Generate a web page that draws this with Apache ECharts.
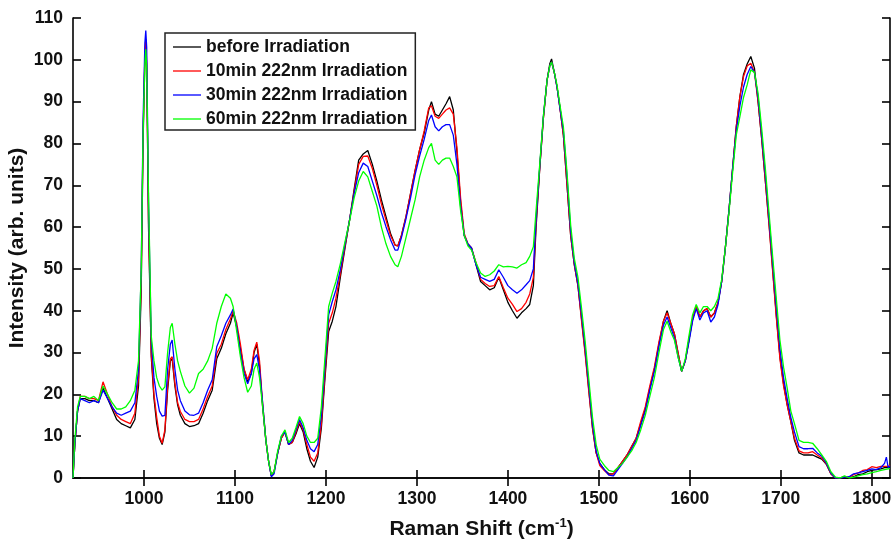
<!DOCTYPE html>
<html>
<head>
<meta charset="utf-8">
<script src="https://cdn.jsdelivr.net/npm/echarts@6/dist/echarts.min.js"></script>
<style>
html,body{margin:0;padding:0;background:#fff;}
#chart{width:895px;height:541px;}
</style>
</head>
<body>
<div id="chart"></div>
<script>
// Raman shift (cm^-1)
const shifts = [
922,924,927,930,935,940,945,950,955,960,
965,970,975,980,985,990,994,997,999,1001,
1002,1003,1005,1008,1011,1014,1017,1020,1023,1026,
1029,1031,1034,1037,1040,1045,1050,1055,1060,1065,
1070,1075,1080,1085,1090,1095,1098,1102,1106,1110,
1114,1118,1121,1124,1127,1130,1134,1137,1140,1143,
1147,1151,1155,1159,1163,1167,1171,1175,1179,1183,
1187,1191,1195,1199,1203,1207,1211,1216,1221,1226,
1231,1236,1241,1246,1251,1256,1261,1266,1271,1276,
1279,1283,1288,1293,1298,1303,1308,1313,1316,1320,
1324,1328,1332,1336,1340,1344,1348,1352,1356,1360,
1365,1370,1375,1380,1385,1390,1395,1400,1405,1410,
1415,1420,1424,1428,1431,1435,1439,1443,1446,1448,
1451,1454,1457,1461,1465,1469,1473,1477,1481,1485,
1489,1493,1497,1501,1506,1511,1516,1521,1526,1531,
1536,1541,1546,1551,1556,1561,1566,1571,1575,1579,
1583,1587,1591,1595,1599,1603,1607,1611,1615,1619,
1623,1627,1631,1635,1639,1643,1647,1651,1655,1659,
1663,1667,1671,1675,1679,1683,1687,1691,1695,1699,
1703,1707,1711,1715,1720,1725,1730,1735,1740,1745,
1750,1755,1760,1765,1770,1775,1780,1785,1790,1795,
1800,1805,1810,1814,1816,1818,1820
];

const beforeIrr = [
0,8,16,19,19,18.5,18.5,18,21.5,19,
16.5,14,13,12.5,12,14,22,45,80,100,
104,98,60,29,19,13,9.5,8,11,21,
28,28.5,22,17.5,15,13,12.3,12.5,13,15.5,
18.5,21,28.5,31,34.5,37,39.5,36,31,26,
23,25,30,32,27,18,9,4,0.5,1.5,
6,9.5,11,8,8.5,10.5,13,11,7,4,
2.5,5,12,24,35,37.5,41,48.2,55,61.7,
69,76,77.5,78.3,75,71,66.5,62.5,58.5,55.7,
55.5,58,62.5,68,73.5,78.5,82.5,88,90,87,
86.5,88,89.5,91.2,88,78,66,58,56,55,
51,47,46,45,45.5,48,45,42,40,38.2,
39.5,40.5,41.5,46,60,74,86,95,99,100.2,
97,93.5,89,82,70,58,51,46,38,30,
21,12,6,3.5,2,1,1,2.5,4,5.5,
7.5,9.5,13,16.5,21.5,26,32,37.5,40,37,
34.5,30,25.5,28,33,38,41,38.5,40,40.5,
38.5,39.5,42,47,55,64,74,84,91.2,96.5,
99,100.8,98,90,81,71,61,50,39,29,
22.5,17.5,13.5,9,6,5.5,5.5,5.5,5,4.5,
3.3,1,0,0,0,0,0.3,0.8,1,1.5,
1.8,2,2.2,2.5,2.5,2.5,2.5
];

const irr10min = [
0,8,16,19.5,19.5,19,19,18.5,23,20,
17,15,14,13.5,13,15.5,24,47,82,101,
105,99,62,30,20,14.5,10,8.3,11.5,22,
28.5,29,22.7,18,15.9,14,13.5,13.5,14,16.5,
19.5,22,29.8,32,35.5,38,40,37,32,26,
23.5,26,30.5,32.5,28,19,9,4,0.5,1.5,
6,9.5,11,8,8.5,11,13.5,11.5,8,5,
4,6,13,25,37,39.5,43,49,55.5,61.7,
68.5,75,76.9,77,74,70,65.5,61.7,58,55.7,
55.5,58,62.5,68,73.5,78.5,83,88.5,89,86.5,
86,87,88,88.5,87,79,67,58.5,56,55,
51.5,47.5,46.5,45.8,46,48.2,45.5,43,41.5,39.8,
40.5,42,44,48,61,74,86,95,98.5,99.5,
97,93.5,88.8,82,70,58,51,46,37.5,29.5,
20.5,12,6,3,1.8,0.8,1,2.5,4,5.5,
7.5,9.5,13.5,17,22,26.5,32.5,37.5,39.5,37,
34.5,30,25.5,28,33,38,41,38.5,40,40.5,
38.5,39.5,42,47,55,64,74,84,91.2,96,
98.5,99.2,97,90,81,71,60.5,49.5,38.5,28.5,
22,17.5,13.5,9.5,6.5,6,6,6.3,5.5,4.8,
3.4,1,0,0,0.3,0.2,0.8,1.2,1.8,2,
2.7,2.5,2.8,2.8,3,2.8,3
];

const irr30min = [
0,8,16,19,18.5,18,18.5,18,21,19,
17,15.5,15,15.5,16,18,26,50,85,104,
107,103,66,33,24,19.5,16,14.8,15,26,
32,33,26,21,18.5,16,15.1,15,15.5,18,
21,23.5,31.4,34,37,39,40.4,36,30,25,
22.5,25,28.5,29.5,26,19,9,4,0.3,1,
6,10,11,8,9,11.5,14,12,9,7,
6.3,8,15,27,39,42.2,45,50,56,61.7,
68,73,75.3,74.5,71,67.5,63.5,60.1,57,54.5,
54.5,57.5,62,67,72.5,77,81,85.5,86.8,84,
83,84,84.5,84.5,82,75,65,58,56,55,
51,48,47.5,47,47.5,49.8,48,46,45,44.2,
45,46.2,47.2,50,62,74.5,86.5,95,98.5,99.5,
97,93.5,88.8,83,72,59,51.5,46.5,39,31,
22,13,6.5,3.5,2,0.7,0.5,2,3.5,5,
7,9,12.5,16,21,25.5,31.5,36.5,38.5,36,
33.5,29,25.5,28,32.5,37.5,40.5,37.8,39.5,40,
37.3,38.5,41.5,47,55,64,74,83,89,93.5,
96.5,98.4,97,91,82,72.5,62,51.5,41,31,
24,19,14.5,11,7.5,7,7,7.1,6,5.2,
3.6,1.2,0,0,0.2,0.3,1,1.2,1.5,1.8,
2.2,2,2.5,3.5,5,2.5,2.8
];

const irr60min = [
0,9,17,19.5,19.5,19,19.5,18.5,22,20,
18,16.5,16.5,17,18.5,21,28,50,82,99,
102.5,98,68,34,28,24,22,21,21.8,30,
36,37,32,28,25.5,22,20.3,21.5,25,26,
28,31,37,41,44,43,41,35,29,24,
20.5,22,26,27.5,24,18,9,4,0.8,1.5,
6.5,10,11.5,8.5,9.5,12,14.7,13,10,8.5,
8.5,9.5,17,29,41,44.2,47,51.4,56.5,61.5,
67,71,73.3,72,68.5,65,60,56,53,51,
50.5,53,57.5,62,66.5,72,76,79,80,76,
75,76,76.5,76.5,74.5,72,64,58,55.5,54.5,
51.5,49,48.2,48.6,49.5,51,50.5,50.6,50.5,50.2,
51,51.5,53,55.3,64,75,86.5,95,98.5,99.5,
97,94,89.5,84,73,60.5,52.5,48,40.5,32.5,
23.5,14.5,8,4.5,3,1.8,1.5,2.5,3.5,5,
6.5,8.5,11.5,15,19.5,24,30,35.5,37.5,35,
33,29,25.5,28.5,34,39,41.5,39.5,41,41,
40,41,43,47.5,55,63.5,73,82,86.4,91,
94,97.6,97,92,83.5,74,63.5,53,43,33,
26.5,21.5,16,13,9,8.5,8.5,8.3,7,5.5,
4,1.5,0.2,0,0.5,0,0.2,0.5,0.8,1,
1.3,1.5,1.8,2,2.2,2.2,2.3
];

const seriesNames = ['before Irradiation','10min 222nm Irradiation','30min 222nm Irradiation','60min 222nm Irradiation'];
const seriesColors = ['#000000','#ff0000','#0000ff','#00ff00'];
const xTicks = [1000,1100,1200,1300,1400,1500,1600,1700,1800];

const FONT = 'Liberation Sans, Arial, Helvetica, sans-serif';
const allY = [beforeIrr, irr10min, irr30min, irr60min];

const chart = echarts.init(document.getElementById('chart'), null, {renderer:'canvas'});

const axisLineStyle = {color:'#000', width:1.6};
const option = {
  backgroundColor:'#fff',
  animation:false,
  grid:{left:73, right:5, top:18, bottom:63, containLabel:false, outerBoundsMode:'none'},
  legend:{
    data: seriesNames,
    orient:'vertical',
    left:165, top:33,
    padding:[5,8,2,8],
    itemGap:6,
    itemWidth:28, itemHeight:14,
    backgroundColor:'#fff',
    borderColor:'#222', borderWidth:1.5,
    icon:'path://M0,7L28,7L28,8.3L0,8.3Z',
    textStyle:{fontFamily:FONT, fontWeight:'bold', fontSize:17.5, color:'#111', lineHeight:17}
  },
  xAxis:[{
    type:'value', min:922, max:1820,
    position:'bottom',
    name:'{t|Raman Shift (cm}{s|-1}{t|)}',
    nameLocation:'middle', nameGap:39,
    nameMoveOverlap:false,
    nameTextStyle:{rich:{
      t:{fontFamily:FONT, fontWeight:'bold', fontSize:21, color:'#111'},
      s:{fontFamily:FONT, fontWeight:'bold', fontSize:13, color:'#111', padding:[0,0,11,0]}
    }},
    axisLine:{lineStyle:axisLineStyle},
    axisTick:{inside:true, length:8, customValues:xTicks, lineStyle:{color:'#000', width:1.6}},
    axisLabel:{customValues:xTicks, margin:12, formatter:(v)=>String(v), fontFamily:FONT, fontWeight:'bold', fontSize:17.5, color:'#111'},
    splitLine:{show:false}
  },{
    type:'value', min:922, max:1820,
    position:'top',
    axisLine:{lineStyle:axisLineStyle},
    axisTick:{inside:true, length:8, customValues:xTicks, lineStyle:{color:'#000', width:1.6}},
    axisLabel:{show:false},
    splitLine:{show:false}
  }],
  yAxis:[{
    type:'value', min:0, max:110, interval:10,
    position:'left',
    name:'Intensity (arb. units)',
    nameLocation:'middle', nameGap:45,
    nameMoveOverlap:false,
    nameTextStyle:{fontFamily:FONT, fontWeight:'bold', fontSize:21, color:'#111'},
    axisLine:{show:true, lineStyle:axisLineStyle},
    axisTick:{show:true, inside:true, length:8, lineStyle:{color:'#000', width:1.6}},
    axisLabel:{margin:10, fontFamily:FONT, fontWeight:'bold', fontSize:17.5, color:'#111'},
    splitLine:{show:false}
  },{
    type:'value', min:0, max:110, interval:10,
    position:'right',
    axisLine:{show:true, lineStyle:axisLineStyle},
    axisTick:{show:true, inside:true, length:8, lineStyle:{color:'#000', width:1.6}},
    axisLabel:{show:false},
    splitLine:{show:false}
  }],
  series: seriesNames.map((name,k)=>({
    name:name,
    type:'line',
    xAxisIndex:0, yAxisIndex:0,
    symbol:'none',
    smooth:false,
    clip:true,
    color:seriesColors[k],
    lineStyle:{color:seriesColors[k], width:1.3},
    data: shifts.map((x,i)=>[x, allY[k][i]])
  }))
};
chart.setOption(option);
</script>
</body>
</html>
